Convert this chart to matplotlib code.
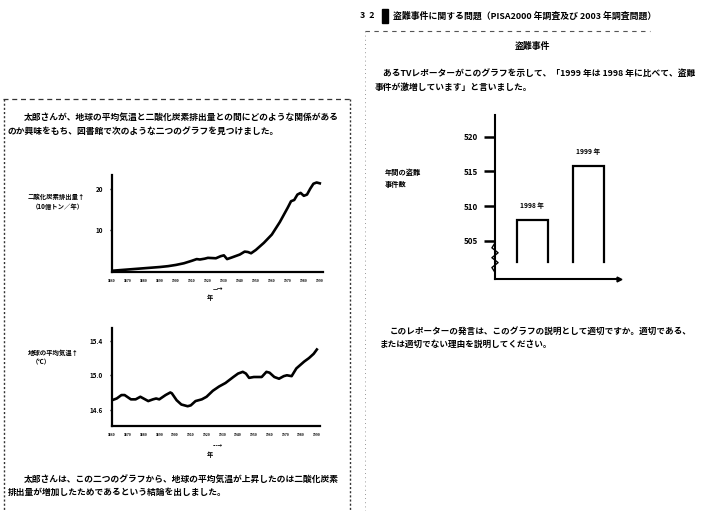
import numpy as np
import matplotlib
matplotlib.use("Agg")
import matplotlib.pyplot as plt
from matplotlib.lines import Line2D
from matplotlib.patches import Rectangle

plt.rcParams['font.family'] = ['Noto Sans CJK JP', 'DejaVu Sans']
plt.rcParams['font.weight'] = 'bold'

# data
co2_years = [1860, 1865, 1870, 1875, 1880, 1885, 1890, 1895, 1900, 1905, 1910, 1913,
             1915, 1918, 1920, 1925, 1928, 1930, 1932, 1935, 1940, 1943, 1945, 1947,
             1950, 1955, 1960, 1965, 1970, 1972, 1974, 1976, 1978, 1980, 1982, 1984,
             1986, 1988, 1990]
co2_values = [0.3, 0.45, 0.6, 0.75, 0.9, 1.05, 1.2, 1.4, 1.7, 2.1, 2.7, 3.1,
              3.0, 3.2, 3.4, 3.3, 3.8, 4.0, 3.1, 3.5, 4.2, 4.9, 4.8, 4.5,
              5.3, 7.0, 9.0, 12.0, 15.5, 17.0, 17.3, 18.6, 19.0, 18.3, 18.6, 20.0,
              21.2, 21.5, 21.3]

temp_years = [1860, 1863, 1866, 1868, 1872, 1875, 1878, 1880, 1883, 1886, 1888, 1890,
              1894, 1897, 1898, 1901, 1904, 1908, 1910, 1913, 1917, 1920, 1924, 1928,
              1932, 1937, 1940, 1943, 1945, 1947, 1950, 1954, 1955, 1958, 1960, 1963,
              1966, 1969, 1971, 1974, 1977, 1982, 1985, 1988, 1990]
temp_values = [14.71, 14.73, 14.77, 14.77, 14.72, 14.72, 14.75, 14.73, 14.70, 14.72, 14.73, 14.72,
               14.77, 14.80, 14.79, 14.71, 14.66, 14.64, 14.65, 14.70, 14.72, 14.75, 14.82, 14.87,
               14.91, 14.98, 15.02, 15.04, 15.02, 14.97, 14.98, 14.98, 14.98, 15.04, 15.03, 14.98,
               14.96, 14.99, 15.00, 14.99, 15.08, 15.16, 15.20, 15.25, 15.30]

year_labels = [str(y) for y in range(1860, 2000, 10)]
co2_ticks = [10, 20]
temp_ticks = [14.6, 15.0, 15.4]

bar_years = ["1998 年", "1999 年"]
bar_values = [508.0, 515.7]
bar_ticks = [505, 510, 515, 520]

W, H = 702, 511
fig = plt.figure(figsize=(7.02, 5.11), dpi=100)


def px_axes(x0, y0, x1, y1):
    # axes placed using pixel corners (top-left origin)
    return fig.add_axes([x0 / W, 1 - y1 / H, (x1 - x0) / W, (y1 - y0) / H])


def txt(x, y, s, size=6.2, **kw):
    fig.text(x / W, 1 - y / H, s, fontsize=size, va='center', **kw)


def fline(xs, ys, **kw):
    fig.add_artist(Line2D([x / W for x in xs], [1 - y / H for y in ys], **kw))


# ---------- box borders ----------
fline([3, 350], [99, 99], color='#333333', lw=0.9, ls=(0, (4, 3)))
fline([4, 4], [99, 511], color='#333333', lw=1.0, ls=(0, (1.5, 1.5)))
fline([350, 350], [99, 511], color='#333333', lw=1.0, ls=(0, (1.5, 1.5)))
fline([365, 650], [31, 31], color='#555555', lw=0.8, ls=(0, (4, 4)))
fline([365, 365], [31, 511], color='#777777', lw=0.6, ls=(0, (1, 4)))

# ---------- heading (right page) ----------
txt(360, 16, "3  2", size=6.4)
fig.add_artist(Rectangle((382 / W, 1 - 23 / H), 6 / W, 14 / H, color='black',
                         transform=fig.transFigure))
txt(393, 16, "盗難事件に関する問題（PISA2000 年調査及び 2003 年調査問題）", size=6.4)
txt(532, 46, "盗難事件", size=6.4, ha='center')
txt(383, 73, "あるTVレポーターがこのグラフを示して、「1999 年は 1998 年に比べて、盗難", size=6.3)
txt(375, 87, "事件が激増しています」と言いました。", size=6.3)
txt(390, 331, "このレポーターの発言は、このグラフの説明として適切ですか。適切である、", size=6.2)
txt(380, 344, "または適切でない理由を説明してください。", size=6.2)

# ---------- left page text ----------
txt(24, 117, "太郎さんが、地球の平均気温と二酸化炭素排出量との間にどのような関係がある", size=6.3)
txt(8, 131, "のか興味をもち、図書館で次のような二つのグラフを見つけました。", size=6.3)
txt(24, 479, "太郎さんは、この二つのグラフから、地球の平均気温が上昇したのは二酸化炭素", size=6.3)
txt(8, 492, "排出量が増加したためであるという結論を出しました。", size=6.3)


def style_line_axes(ax):
    for side in ['top', 'right']:
        ax.spines[side].set_visible(False)
    for side in ['left', 'bottom']:
        ax.spines[side].set_linewidth(1.6)
    ax.set_xticks(range(1860, 2000, 10))
    ax.set_xticklabels(year_labels, fontsize=2.4)
    ax.tick_params(axis='x', length=0, pad=5)
    ax.tick_params(axis='y', length=1.5, width=1, labelsize=4.5, pad=5)
    ax.patch.set_alpha(0)


# ---------- CO2 chart ----------
ax1 = px_axes(112, 175, 323, 272)
ax1.plot(co2_years, co2_values, color='black', lw=1.9)
ax1.set_xlim(1860, 1992)
ax1.set_ylim(0, 23.3)
ax1.set_yticks(co2_ticks)
style_line_axes(ax1)
txt(28, 196, "二酸化炭素排出量↑", size=4.6)
txt(32, 206, "（10億トン／年）", size=4.6)
txt(213, 289, "—→", size=4)
txt(207, 297, "年", size=4.5)

# ---------- temperature chart ----------
ax2 = px_axes(112, 328, 320, 426)
ax2.plot(temp_years, temp_values, color='black', lw=1.9)
ax2.set_xlim(1860, 1992)
ax2.set_ylim(14.41, 15.55)
ax2.set_yticks(temp_ticks)
ax2.set_yticklabels([f"{t:.1f}" for t in temp_ticks])
style_line_axes(ax2)
txt(28, 352, "地球の平均気温↑", size=4.6)
txt(32, 362, "（℃）", size=4.6)
txt(213, 446, "---→", size=3.5)
txt(207, 454, "年", size=4.5)

# ---------- bar chart ----------
ax3 = px_axes(495, 115, 619, 279)
ax3.set_xlim(0, 4)
ax3.set_ylim(499.5, 523.1)
base = 502.0
centers = [1.2, 3.0]
half = 0.5
for c, v, lab in zip(centers, bar_values, bar_years):
    ax3.plot([c - half, c - half, c + half, c + half], [base, v, v, base],
             color='black', lw=1.6, solid_joinstyle='miter')
    ax3.text(c, v + 2.1, lab, ha='center', va='center', fontsize=4.8)
for side in ['top', 'right']:
    ax3.spines[side].set_visible(False)
ax3.spines['left'].set_linewidth(1.5)
ax3.spines['bottom'].set_linewidth(1.5)
ax3.set_yticks(bar_ticks)
ax3.set_yticklabels([str(t) for t in bar_ticks], fontsize=5.8)
ax3.tick_params(axis='y', direction='out', length=8, width=1.8, pad=4)
ax3.set_xticks([])
ax3.patch.set_alpha(0)
# axis break zigzag and arrow head
zx = [0.0, -0.025, 0.025, -0.025, 0.025, -0.025, 0.0]
zy = [0.22, 0.19, 0.16, 0.13, 0.10, 0.07, 0.04]
ax3.plot(zx, zy, color='black', lw=1.0, transform=ax3.transAxes, clip_on=False)
ax3.plot([1.0], [0.0], marker='>', color='black', ms=3.5, transform=ax3.transAxes, clip_on=False)
txt(385, 172, "年間の盗難", size=5.2)
txt(385, 184, "事件数", size=5.2)

fig.savefig("out.png", dpi=100)
